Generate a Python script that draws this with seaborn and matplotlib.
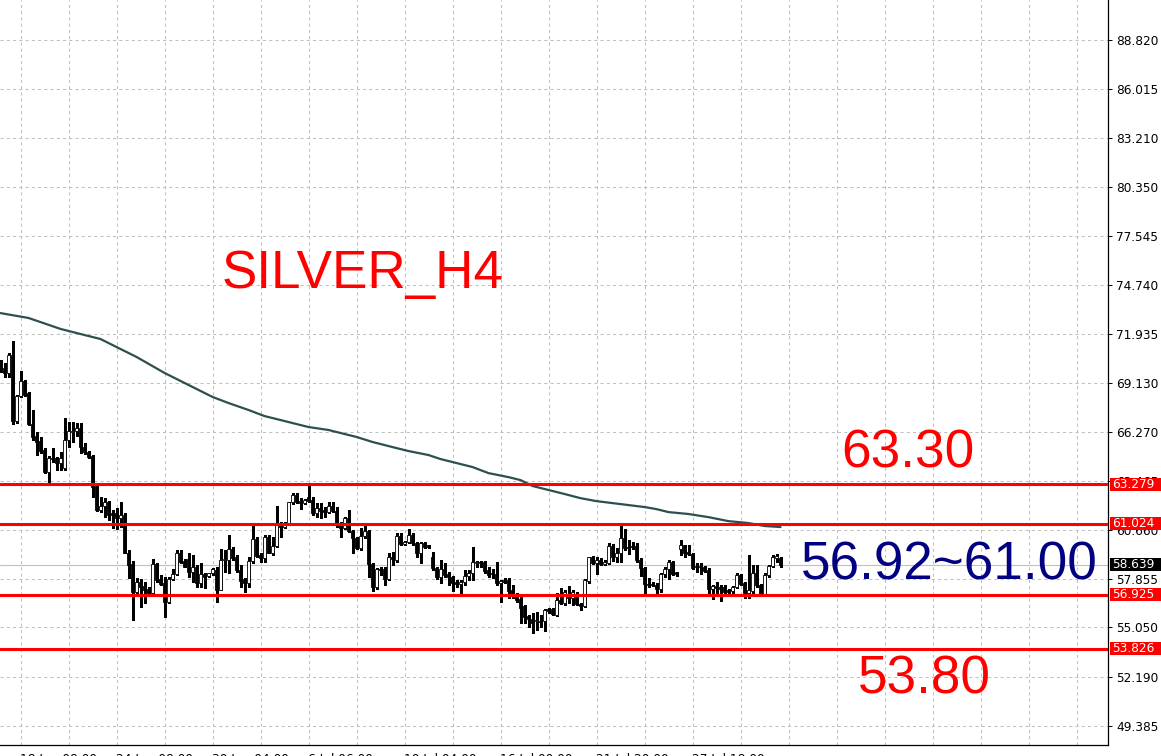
import matplotlib
matplotlib.use("Agg")
import matplotlib.pyplot as plt
import matplotlib.transforms as mtransforms
from matplotlib.patches import Rectangle
import seaborn as sns
import numpy as np

sns.set_style("white")
plt.rcParams['font.family'] = ['DejaVu Sans']

# H4 candles (price units)
opens = [
    70.14, 69.96, 69.67, 70.71, 66.91, 68.35, 69.21, 68.52, 66.74, 66.05,
    65.76, 65.25, 63.99, 64.79, 64.79, 64.50, 64.21, 65.82, 66.28, 66.34,
    66.51, 65.42, 65.13, 64.90, 63.18, 61.80, 62.03, 62.26, 61.62, 61.62,
    61.34, 61.51, 59.33, 58.70,
    57.08, 57.66, 57.43, 57.26, 57.03, 58.70, 57.83, 57.60, 56.51, 57.83,
    58.12, 59.33, 58.87, 58.98, 58.24, 58.52, 57.60, 58.12, 58.01, 58.18,
    58.35, 57.20, 58.92, 58.92, 59.56, 59.10, 58.35, 57.83, 57.60, 58.87,
    60.13, 59.21, 59.04,
    60.24, 59.33, 59.73, 61.05, 60.82, 61.05, 62.26, 62.66, 62.30, 62.20,
    62.54, 62.37, 61.62, 61.91, 61.80, 61.68, 62.03, 61.74, 60.93, 60.76,
    61.34, 60.59, 60.19, 59.61, 60.30, 60.59, 58.70, 57.37, 58.41, 58.41,
    57.83, 59.10,
    58.92, 60.30, 59.84, 59.96, 60.36, 59.90, 59.33, 59.90, 59.79, 59.10,
    58.47, 57.95, 58.41, 58.12, 57.95, 57.66, 57.54, 57.66, 58.01, 58.18,
    58.75, 58.81, 58.81, 58.35, 58.18, 58.12, 57.60, 57.77, 57.77, 57.20,
    56.97, 56.68, 56.28,
    55.70, 55.53, 55.42, 55.42, 55.42, 56.10, 56.10, 55.76, 56.62, 56.45,
    56.80, 56.74, 56.80, 56.39, 56.28, 57.72, 59.10, 58.75, 58.92, 58.70,
    58.75, 59.73, 59.10, 59.33, 60.19, 59.67, 59.73, 59.73, 58.92, 58.47,
    57.54, 57.54,
    57.49, 57.26, 58.12, 58.41, 58.81, 58.24, 59.56, 59.79, 59.39, 59.27,
    58.58, 58.58, 58.52, 58.35, 57.26, 57.43, 57.37, 57.37, 57.20, 57.14,
    57.37, 58.06, 57.60, 57.03, 57.14, 58.18, 57.49, 56.97, 58.06, 58.58,
    59.04, 59.04,
]
highs = [
    70.42, 70.25, 70.82, 71.51, 68.40, 69.79, 69.27, 68.60, 67.55, 66.28,
    65.99, 65.36, 64.90, 65.36, 64.85, 65.13, 67.09, 66.86, 66.86, 66.80,
    66.80, 65.65, 65.19, 64.96, 63.29, 62.54, 62.49, 62.30, 61.80, 61.91,
    62.26, 61.62, 59.50, 58.87,
    57.89, 57.83, 57.66, 57.37, 58.98, 58.75, 58.06, 57.95, 57.95, 58.41,
    59.50, 59.50, 58.98, 59.33, 59.21, 58.64, 58.75, 58.18, 58.18, 58.47,
    58.52, 59.56, 59.50, 60.36, 59.67, 59.21, 58.64, 57.89, 59.10, 60.94,
    60.24, 59.33, 60.36,
    60.36, 60.24, 62.03, 61.10, 61.10, 62.26, 62.77, 62.77, 62.49, 62.43,
    63.18, 62.54, 62.20, 62.20, 61.97, 62.26, 62.26, 61.97, 61.10, 61.39,
    61.80, 60.65, 60.24, 60.76, 60.88, 60.65, 58.75, 58.47, 58.52, 58.52,
    59.33, 59.39,
    60.47, 60.47, 60.01, 60.71, 60.47, 59.96, 59.96, 59.96, 59.79, 59.39,
    58.52, 58.92, 58.75, 58.24, 58.01, 57.77, 57.77, 58.35, 58.35, 59.67,
    58.87, 58.87, 58.87, 58.52, 58.41, 58.81, 57.77, 57.89, 57.89, 57.49,
    57.03, 56.80, 56.33,
    55.76, 55.88, 55.93, 55.76, 56.10, 56.16, 56.16, 57.03, 57.31, 57.20,
    57.43, 57.20, 57.08, 56.45, 57.83, 59.10, 59.16, 59.10, 59.04, 58.92,
    59.90, 59.84, 59.61, 60.88, 60.71, 60.07, 59.96, 59.90, 59.04, 58.52,
    57.89, 57.66,
    57.60, 58.18, 58.52, 58.92, 58.87, 58.24, 60.07, 59.79, 59.79, 59.33,
    58.75, 58.75, 58.58, 58.47, 57.49, 57.66, 57.49, 57.49, 57.26, 57.43,
    58.18, 58.12, 57.66, 59.21, 58.64, 58.64, 57.54, 58.18, 58.64, 59.21,
    59.27, 59.10,
]
lows = [
    69.73, 69.45, 69.45, 66.74, 66.80, 68.29, 68.35, 66.70, 65.82, 64.96,
    65.08, 63.93, 63.35, 64.56, 64.10, 64.10, 64.10, 65.42, 65.71, 66.05,
    65.08, 65.02, 64.79, 62.54, 61.74, 61.68, 61.39, 61.22, 60.77, 60.71,
    60.82, 59.30, 57.89, 55.47,
    57.03, 56.22, 56.45, 56.91, 56.91, 57.66, 57.49, 55.65, 56.45, 57.77,
    58.06, 58.75, 58.52, 57.95, 57.66, 57.37, 57.37, 57.31, 57.95, 58.06,
    56.51, 57.20, 58.24, 58.18, 58.92, 58.24, 57.37, 57.08, 57.37, 58.75,
    59.10, 58.81, 58.81,
    59.33, 59.21, 59.67, 60.24, 60.77, 60.99, 62.14, 62.20, 61.85, 62.14,
    62.26, 61.51, 61.39, 61.34, 61.39, 61.62, 61.68, 60.82, 60.24, 60.71,
    60.53, 59.33, 59.56, 59.50, 60.19, 57.95, 57.14, 57.26, 58.06, 57.49,
    57.77, 58.64,
    58.81, 59.79, 59.79, 59.90, 59.79, 59.10, 58.75, 59.61, 59.61, 58.35,
    57.83, 57.60, 57.95, 57.49, 57.14, 57.37, 57.03, 57.49, 57.77, 57.77,
    58.52, 58.52, 58.18, 57.95, 57.89, 57.49, 56.51, 57.60, 56.74, 56.74,
    56.51, 55.30, 55.30,
    55.07, 54.72, 54.90, 55.07, 54.84, 55.88, 55.76, 55.70, 56.39, 56.33,
    56.45, 56.33, 56.33, 56.05, 56.22, 57.60, 58.70, 58.12, 58.64, 58.64,
    58.70, 58.87, 58.81, 58.81, 59.50, 59.27, 59.56, 58.81, 58.01, 57.03,
    57.37, 57.43,
    57.03, 57.08, 57.95, 57.83, 58.06, 58.01, 59.21, 59.10, 59.21, 58.41,
    58.24, 58.12, 58.24, 56.97, 56.68, 57.03, 56.57, 57.03, 57.03, 57.03,
    57.31, 57.49, 56.74, 56.74, 57.03, 57.37, 56.91, 56.91, 57.95, 58.52,
    58.81, 58.52,
]
closes = [
    69.85, 69.67, 70.71, 66.91, 68.35, 69.21, 68.41, 66.74, 65.99, 65.71,
    65.19, 63.99, 64.79, 64.73, 64.50, 64.79, 65.82, 66.34, 66.34, 66.51,
    65.42, 65.13, 64.85, 63.12, 61.80, 62.03, 62.26, 61.51, 61.51, 61.34,
    61.51, 59.33, 58.64, 57.08,
    57.66, 57.37, 57.20, 57.03, 58.70, 57.77, 57.54, 56.51, 57.83, 58.12,
    59.33, 58.81, 58.52, 58.24, 58.52, 57.60, 58.12, 57.95, 58.18, 58.41,
    57.20, 58.92, 58.98, 59.56, 59.04, 58.35, 57.72, 57.60, 58.87, 60.13,
    59.16, 59.04, 60.24,
    59.33, 59.73, 61.00, 60.82, 61.05, 62.26, 62.66, 62.26, 62.20, 62.37,
    62.30, 61.62, 61.91, 61.74, 61.68, 62.03, 61.74, 61.05, 60.76, 61.34,
    60.59, 60.19, 59.61, 60.30, 60.59, 58.70, 57.37, 58.41, 58.35, 57.83,
    59.10, 58.98,
    60.30, 59.84, 59.96, 60.36, 59.90, 59.33, 59.90, 59.67, 59.67, 58.47,
    57.95, 58.41, 58.06, 57.95, 57.60, 57.54, 57.66, 58.01, 58.18, 58.81,
    58.81, 58.75, 58.29, 58.06, 58.12, 57.60, 57.72, 57.66, 57.14, 56.97,
    56.62, 56.16, 55.65,
    55.53, 55.30, 55.47, 55.36, 56.05, 55.99, 55.82, 56.62, 56.45, 57.08,
    56.74, 57.08, 56.39, 56.28, 57.77, 59.10, 58.75, 58.92, 58.70, 58.81,
    59.73, 59.10, 59.33, 60.19, 59.61, 59.61, 59.67, 58.92, 58.47, 57.54,
    57.49, 57.49,
    57.26, 58.12, 58.41, 58.81, 58.12, 58.12, 59.79, 59.33, 59.27, 58.47,
    58.52, 58.52, 58.29, 57.26, 57.43, 57.31, 57.26, 57.08, 57.08, 57.37,
    58.06, 57.54, 57.03, 57.20, 58.18, 57.49, 56.97, 58.06, 58.58, 59.10,
    59.16, 58.64,
]

# moving average, sampled along the drawn curve (bar index, price)
ma_bars = [0, 7, 15, 21, 25, 29, 34, 41, 47, 53, 57, 62, 66, 69, 73, 77,
           82, 86, 89, 93, 99, 102, 107, 110, 114, 118, 122, 127, 130, 133,
           137, 141, 145, 149, 155, 161, 164, 167, 172, 177, 182, 187, 191,
           195]
ma_values = [73.12, 72.84, 72.21, 71.86, 71.63, 71.17, 70.60, 69.68, 68.99,
             68.30, 67.95, 67.55, 67.20, 67.03, 66.80, 66.57, 66.40, 66.17,
             66.00, 65.71, 65.36, 65.19, 64.96, 64.73, 64.50, 64.27, 63.92,
             63.69, 63.52, 63.18, 62.95, 62.72, 62.48, 62.31, 62.14, 61.97,
             61.85, 61.68, 61.57, 61.39, 61.16, 61.05, 60.88, 60.82]

levels = [63.279, 61.024, 56.925, 53.826]
last_price = 58.639

y_ticks = [88.820, 86.015, 83.210, 80.350, 77.545, 74.740, 71.935, 69.130,
           66.270, 63.465, 60.660, 57.855, 55.050, 52.190, 49.385]
x_tick_bars = [5, 29, 53, 77, 101, 125, 149, 173]
x_tick_labels = ["18 Jun 08:00", "24 Jun 08:00", "30 Jun 04:00", "6 Jul 06:00",
                 "10 Jul 04:00", "16 Jul 00:00", "21 Jul 20:00", "27 Jul 18:00"]

title = "SILVER_H4"
upper_note = "63.30"
range_note = "56.92~61.00"
lower_note = "53.80"

W, H = 1161, 756
AX_R, AX_B = 1108, 745
fig = plt.figure(figsize=(W / 100, H / 100), dpi=100)
ax = fig.add_axes([0, (H - AX_B) / H, AX_R / W, AX_B / H])

y_top, y_bot = 91.12, 48.29
ax.set_xlim(-0.125, (AX_R - 0.5) / 4)
ax.set_ylim(y_bot, y_top)
px = (y_top - y_bot) / AX_B  # price per pixel

o = np.array(opens)
h = np.array(highs)
l = np.array(lows)
c = np.array(closes)
x = np.arange(len(o))
bull = c >= o
body_lo = np.minimum(o, c)
body_h = np.maximum(np.abs(c - o), px * 0.6)

ax.vlines(x, l, h, color="black", linewidth=0.75, zorder=3, antialiased=False)
ax.bar(x[bull], body_h[bull], bottom=body_lo[bull], width=0.62,
       facecolor="white", edgecolor="black", linewidth=0.6, zorder=4)
ax.bar(x[~bull], body_h[~bull], bottom=body_lo[~bull], width=0.62,
       facecolor="black", edgecolor="black", linewidth=0.6, zorder=4)

sns.lineplot(x=ma_bars, y=ma_values, ax=ax, color="#2F4F4F",
             linewidth=1.6, zorder=5)

ax.axhline(last_price, color="#C0C0C0", linewidth=0.8, zorder=1)
for lv in levels:
    ax.axhline(lv, color="#FF0000", linewidth=2.2, zorder=6)

# grid and axes
ax.set_yticks(y_ticks)
ax.set_yticklabels([f"{v:.3f}" for v in y_ticks])
ax.yaxis.tick_right()
ax.set_xticks(x_tick_bars)
ax.set_xticklabels(x_tick_labels)
ax.set_xticks(np.arange(5, 277, 12), minor=True)
for lbl in ax.get_xticklabels():
    lbl.set_ha("left")
grid_kw = dict(color="#C0C0C0", linestyle=(0, (3, 3)), linewidth=0.75)
ax.grid(axis="y", which="major", **grid_kw)
ax.grid(axis="x", which="both", **grid_kw)
ax.set_axisbelow(True)
ax.tick_params(axis="y", which="major", direction="out", length=3, width=0.7,
               pad=3, labelsize=8.7, colors="black")
ax.tick_params(axis="x", which="major", direction="out", length=4, width=0.7,
               pad=2, labelsize=8.7, colors="black")
ax.tick_params(axis="x", which="minor", length=0)
for side in ["left", "top"]:
    ax.spines[side].set_visible(False)
for side in ["right", "bottom"]:
    ax.spines[side].set_color("black")
    ax.spines[side].set_linewidth(0.9)
ax.set_xlabel("")
ax.set_ylabel("")

# price tags on the right scale
trans = mtransforms.blended_transform_factory(ax.transAxes, ax.transData)
tag_h = 13 * px
tags = [(lv, "#FF0000") for lv in levels] + [(last_price, "black")]
for lv, col in tags:
    ax.add_patch(Rectangle((1110 / AX_R, lv - tag_h / 2), (W - 1110) / AX_R,
                           tag_h, transform=trans, facecolor=col,
                           edgecolor="none", clip_on=False, zorder=10))
    ax.text(1112 / AX_R, lv, f"{lv:.3f}", transform=trans, ha="left",
            va="center", color="white", fontsize=8.7, zorder=11,
            clip_on=False)

big = dict(fontsize=38.2, family=["Liberation Sans", "DejaVu Sans"],
           ha="left", va="baseline")
fig.text(222 / W, 1 - 288 / H, title, color="#FF0000", **big)
fig.text(841 / W, 1 - 468 / H, upper_note, color="#FF0000", **big)
fig.text(801 / W, 1 - 580 / H, range_note, color="#000080", **big)
fig.text(858 / W, 1 - 694 / H, lower_note, color="#FF0000", **big)

fig.savefig("out.png", dpi=100)
